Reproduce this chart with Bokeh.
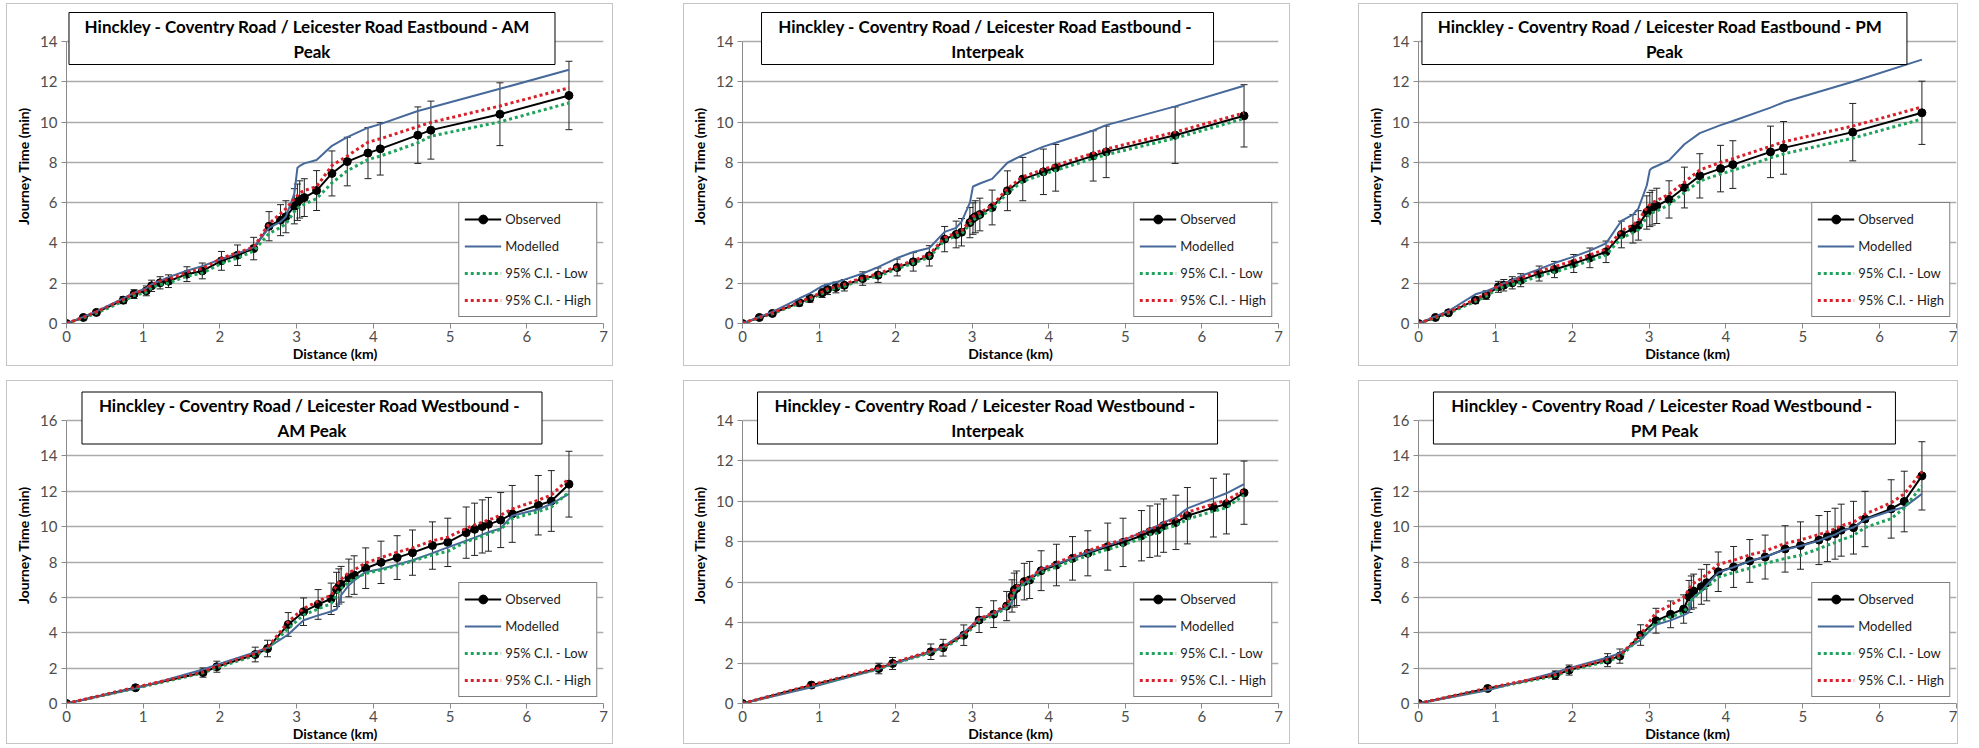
from bokeh.plotting import figure
from bokeh.models import (ColumnDataSource, Range1d, SingleIntervalTicker, FixedTicker, Legend,
                          LegendItem, Label, Whisker, TeeHead, Spacer)
from bokeh.layouts import row, column
from bokeh.embed import file_html
from bokeh.resources import INLINE

# ---------------------------------------------------------------- data
# cumulative distance along the route (km), eastbound timing points
eb_dist = [0.00, 0.22, 0.39, 0.74, 0.88, 1.04, 1.11, 1.22, 1.33, 1.57, 1.77, 2.02, 2.23, 2.44, 2.64,
           2.79, 2.86, 2.97, 3.01, 3.04, 3.10, 3.26, 3.46, 3.66, 3.93, 4.09, 4.58, 4.75, 5.65, 6.55]
# cumulative distance along the route (km), westbound timing points
wb_dist = [0.00, 0.90, 1.78, 1.96, 2.46, 2.62, 2.89, 3.09, 3.28, 3.45, 3.52, 3.55, 3.58, 3.68, 3.75,
           3.90, 4.10, 4.31, 4.51, 4.77, 4.97, 5.21, 5.32, 5.42, 5.50, 5.66, 5.81, 6.15, 6.32, 6.55]

# Eastbound AM peak (journey time, min)
eb_am_obs = [0, 0.30, 0.55, 1.16, 1.46, 1.62, 1.87, 2.02, 2.10, 2.45, 2.61, 3.11, 3.39, 3.72, 4.83,
             5.13, 5.30, 5.82, 6.02, 6.16, 6.25, 6.60, 7.45, 8.04, 8.46, 8.67, 9.35, 9.60, 10.39, 11.32]
eb_am_mod = [0, 0.33, 0.60, 1.25, 1.52, 1.75, 1.95, 2.12, 2.30, 2.62, 2.85, 3.20, 3.48, 3.78, 4.75,
             5.05, 5.30, 6.45, 7.73, 7.82, 7.95, 8.12, 8.82, 9.25, 9.72, 9.90, 10.55, 10.72, 11.65, 12.60]
eb_am_lo = [0, 0.28, 0.51, 1.10, 1.39, 1.54, 1.78, 1.93, 2.01, 2.35, 2.50, 2.98, 3.25, 3.60, 4.47,
            4.77, 4.95, 5.55, 5.71, 5.82, 5.92, 6.20, 6.98, 7.58, 8.14, 8.31, 8.97, 9.30, 10.01, 10.95]
eb_am_hi = [0, 0.32, 0.58, 1.20, 1.51, 1.68, 1.94, 2.10, 2.19, 2.55, 2.72, 3.24, 3.52, 3.79, 4.96,
            5.46, 5.70, 6.19, 6.36, 6.48, 6.60, 6.80, 7.84, 8.32, 9.00, 9.17, 9.78, 9.98, 10.80, 11.70]

# Eastbound interpeak
eb_ip_obs = [0, 0.30, 0.50, 1.03, 1.24, 1.52, 1.69, 1.79, 1.90, 2.23, 2.40, 2.78, 3.06, 3.36, 4.19,
             4.42, 4.53, 5.01, 5.21, 5.30, 5.41, 5.76, 6.59, 7.17, 7.53, 7.73, 8.32, 8.52, 9.35, 10.31]
eb_ip_mod = [0, 0.32, 0.58, 1.24, 1.50, 1.85, 1.95, 2.05, 2.18, 2.48, 2.80, 3.25, 3.55, 3.75, 4.55,
             4.75, 5.05, 6.00, 6.80, 6.85, 6.95, 7.18, 7.98, 8.36, 8.78, 8.97, 9.58, 9.85, 10.78, 11.80]
eb_ip_lo = [0, 0.29, 0.48, 1.00, 1.20, 1.48, 1.65, 1.75, 1.85, 2.18, 2.34, 2.72, 2.99, 3.29, 4.12,
            4.34, 4.45, 4.92, 5.12, 5.21, 5.32, 5.66, 6.48, 7.06, 7.41, 7.60, 8.19, 8.38, 9.20, 10.17]
eb_ip_hi = [0, 0.31, 0.52, 1.06, 1.28, 1.56, 1.73, 1.83, 1.95, 2.28, 2.46, 2.84, 3.12, 3.43, 4.26,
            4.50, 4.61, 5.10, 5.30, 5.39, 5.50, 5.86, 6.70, 7.28, 7.65, 7.86, 8.45, 8.66, 9.50, 10.45]

# Eastbound PM peak
eb_pm_obs = [0, 0.30, 0.53, 1.16, 1.41, 1.82, 1.90, 2.02, 2.15, 2.48, 2.68, 2.98, 3.26, 3.56, 4.42,
             4.70, 4.87, 5.51, 5.66, 5.75, 5.84, 6.16, 6.75, 7.33, 7.69, 7.89, 8.52, 8.72, 9.50, 10.46]
eb_pm_mod = [0, 0.35, 0.62, 1.45, 1.60, 1.85, 2.00, 2.15, 2.35, 2.70, 3.00, 3.32, 3.62, 3.98, 5.10,
             5.40, 5.70, 6.85, 7.62, 7.72, 7.82, 8.10, 8.90, 9.45, 9.85, 10.05, 10.72, 10.98, 12.00, 13.10]
eb_pm_lo = [0, 0.28, 0.50, 1.10, 1.35, 1.75, 1.82, 1.93, 2.05, 2.36, 2.55, 2.85, 3.12, 3.40, 4.25,
            4.50, 4.65, 5.28, 5.42, 5.50, 5.58, 5.90, 6.50, 7.08, 7.42, 7.60, 8.22, 8.42, 9.20, 10.15]
eb_pm_hi = [0, 0.32, 0.56, 1.20, 1.47, 1.88, 1.98, 2.10, 2.25, 2.60, 2.82, 3.12, 3.40, 3.70, 4.60,
            4.90, 5.10, 5.75, 5.90, 6.00, 6.10, 6.42, 7.02, 7.62, 8.00, 8.18, 8.80, 9.02, 9.80, 10.75]

# Westbound AM peak
wb_am_obs = [0, 0.89, 1.75, 2.08, 2.77, 3.11, 4.47, 5.19, 5.60, 5.92, 6.45, 6.62, 6.74, 7.10, 7.26,
             7.65, 7.98, 8.25, 8.53, 8.93, 9.11, 9.66, 9.85, 10.01, 10.13, 10.37, 10.72, 11.21, 11.45, 12.40]
wb_am_mod = [0, 0.85, 1.92, 2.20, 2.90, 3.15, 3.90, 4.71, 4.98, 5.20, 5.33, 5.60, 6.12, 6.69, 6.95,
             7.44, 7.60, 7.85, 8.10, 8.50, 8.83, 9.20, 9.38, 9.55, 9.68, 9.90, 10.62, 10.98, 11.28, 11.85]
wb_am_lo = [0, 0.86, 1.73, 2.02, 2.72, 3.08, 4.25, 5.00, 5.35, 5.65, 6.15, 6.35, 6.50, 6.88, 7.05,
            7.35, 7.55, 7.80, 8.05, 8.40, 8.60, 9.15, 9.30, 9.45, 9.60, 9.85, 10.45, 10.85, 11.10, 11.95]
wb_am_hi = [0, 0.92, 1.78, 2.12, 2.82, 3.16, 4.62, 5.37, 5.78, 6.12, 6.68, 6.88, 7.02, 7.40, 7.55,
            7.95, 8.25, 8.55, 8.80, 9.20, 9.40, 9.90, 10.10, 10.25, 10.36, 10.65, 11.00, 11.50, 11.78, 12.72]

# Westbound interpeak
wb_ip_obs = [0, 0.91, 1.73, 1.98, 2.56, 2.76, 3.38, 4.13, 4.42, 4.82, 5.32, 5.61, 5.70, 6.03, 6.11,
             6.57, 6.85, 7.18, 7.43, 7.76, 7.97, 8.30, 8.50, 8.58, 8.80, 8.96, 9.29, 9.69, 9.87, 10.43]
wb_ip_mod = [0, 0.80, 1.70, 1.95, 2.55, 2.80, 3.50, 4.20, 4.45, 4.75, 5.00, 5.50, 5.65, 5.95, 6.15,
             6.65, 6.90, 7.20, 7.48, 7.82, 8.08, 8.45, 8.62, 8.80, 8.95, 9.22, 9.65, 10.15, 10.40, 10.85]
wb_ip_lo = [0, 0.89, 1.70, 1.95, 2.52, 2.72, 3.33, 4.07, 4.35, 4.74, 5.24, 5.53, 5.62, 5.94, 6.02,
            6.48, 6.75, 7.07, 7.31, 7.63, 7.84, 8.16, 8.36, 8.43, 8.65, 8.80, 9.12, 9.51, 9.69, 10.31]
wb_ip_hi = [0, 0.92, 1.76, 2.01, 2.60, 2.80, 3.43, 4.19, 4.49, 4.90, 5.40, 5.69, 5.78, 6.12, 6.20,
            6.66, 6.95, 7.29, 7.55, 7.89, 8.10, 8.44, 8.64, 8.73, 8.95, 9.12, 9.46, 9.87, 10.05, 10.55]

# Westbound PM peak
wb_pm_obs = [0, 0.85, 1.60, 1.89, 2.45, 2.68, 3.87, 4.68, 5.04, 5.34, 6.05, 6.27, 6.36, 6.60, 6.83,
             7.45, 7.72, 8.06, 8.28, 8.74, 8.93, 9.24, 9.44, 9.60, 9.80, 9.94, 10.43, 11.00, 11.42, 12.87]
wb_pm_mod = [0, 0.75, 1.75, 2.00, 2.60, 2.85, 3.60, 4.45, 4.70, 5.00, 5.15, 5.80, 6.00, 6.35, 6.70,
             7.40, 7.70, 8.05, 8.30, 8.70, 8.90, 9.20, 9.40, 9.55, 9.75, 9.95, 10.40, 10.90, 11.10, 11.85]
wb_pm_lo = [0, 0.83, 1.56, 1.85, 2.40, 2.62, 3.75, 4.55, 4.90, 5.15, 5.60, 5.85, 5.98, 6.35, 6.55,
            7.15, 7.40, 7.65, 7.92, 8.20, 8.38, 8.75, 8.95, 9.10, 9.25, 9.50, 9.95, 10.45, 11.05, 12.30]
wb_pm_hi = [0, 0.87, 1.64, 1.93, 2.50, 2.72, 3.90, 5.15, 5.56, 6.00, 6.45, 6.69, 6.80, 7.07, 7.30,
            7.86, 8.10, 8.40, 8.62, 9.05, 9.25, 9.55, 9.72, 9.88, 10.05, 10.25, 10.70, 11.35, 11.85, 13.10]

title_lines = [
    ("Hinckley - Coventry Road / Leicester Road  Eastbound  - AM", "Peak"),
    ("Hinckley - Coventry Road / Leicester Road Eastbound  -", "Interpeak"),
    ("Hinckley - Coventry Road / Leicester Road  Eastbound  - PM", "Peak"),
    ("Hinckley - Coventry Road / Leicester Road  Westbound -", "AM Peak"),
    ("Hinckley - Coventry Road / Leicester Road  Westbound -", "Interpeak"),
    ("Hinckley - Coventry Road / Leicester Road  Westbound -", "PM Peak"),
]
legend_labels = ["Observed", "Modelled", "95% C.I. - Low", "95% C.I. - High"]
x_label = "Distance (km)"
y_label = "Journey Time (min)"

# percentage error bars on the observed series
ERR_PCT = 0.15

# ---------------------------------------------------------------- style
FONT = "Lato"
C_OBS = "#000000"
C_MOD = "#46699a"
C_LO = "#1fa35c"
C_HI = "#d8202b"
C_GRID = "#ababab"
C_AXIS = "#8a8a8a"
C_TICK = "#4d4d4d"


def make_panel(lines, dist, obs, mod, lo, hi, ymax, w, h, left, right, top_axis, bottom,
               top_frame, box_w, box_cy):
    # the frame reaches above the axis maximum so the title box can sit inside it
    axis_h = h - bottom - top_axis
    frame_h = h - bottom - top_frame
    y_view = ymax * frame_h / axis_h
    ppu = axis_h / ymax

    def y_at(canvas_y):
        return (h - bottom - canvas_y) / ppu

    p = figure(width=w, height=h, x_range=Range1d(0, 7), y_range=Range1d(0, y_view),
               output_backend="svg", toolbar_location=None,
               min_border_left=left, min_border_right=right,
               min_border_top=top_frame, min_border_bottom=bottom,
               background_fill_color="white", border_fill_color="white",
               outline_line_color=None,
               styles={"border": "1px solid #c4c4c4"})

    yt = FixedTicker(ticks=list(range(0, ymax + 1, 2)))
    p.xaxis.ticker = SingleIntervalTicker(interval=1)
    p.yaxis.ticker = yt
    p.ygrid.ticker = yt
    p.yaxis.bounds = (0, ymax)
    p.xgrid.grid_line_color = None
    p.ygrid.grid_line_color = C_GRID
    p.ygrid.grid_line_width = 1.5
    for ax in (p.xaxis, p.yaxis):
        ax.axis_line_color = C_AXIS
        ax.axis_line_width = 1
        ax.major_tick_line_color = C_AXIS
        ax.major_tick_in = 0
        ax.major_tick_out = 5
        ax.minor_tick_line_color = None
        ax.major_label_text_font = FONT
        ax.major_label_text_font_size = "15px"
        ax.major_label_text_color = C_TICK
        ax.axis_label_text_font = FONT
        ax.axis_label_text_font_size = "14px"
        ax.axis_label_text_font_style = "bold"
        ax.axis_label_text_color = "#000000"
    p.xaxis.major_label_standoff = 2
    p.xaxis.axis_label_standoff = 0
    p.yaxis.major_label_standoff = 4
    p.yaxis.axis_label_standoff = 5
    p.xaxis.axis_label = x_label
    p.yaxis.axis_label = y_label

    src = ColumnDataSource(dict(
        x=dist, obs=obs, mod=mod, lo=lo, hi=hi,
        eu=[v * (1 + ERR_PCT) for v in obs],
        el=[v * (1 - ERR_PCT) for v in obs],
    ))

    r_obs_line = p.line("x", "obs", source=src, line_color=C_OBS, line_width=2)
    r_obs_pts = p.scatter("x", "obs", source=src, marker="circle", size=8,
                          fill_color=C_OBS, line_color=C_OBS)
    r_mod = p.line("x", "mod", source=src, line_color=C_MOD, line_width=2)
    r_lo = p.line("x", "lo", source=src, line_color=C_LO, line_width=3, line_dash="3 3")
    r_hi = p.line("x", "hi", source=src, line_color=C_HI, line_width=3, line_dash="3 3")

    err = Whisker(source=src, base="x", upper="eu", lower="el", dimension="height",
                  line_color="#222222", line_width=1,
                  upper_head=TeeHead(size=7, line_color="#222222", line_width=1),
                  lower_head=TeeHead(size=7, line_color="#222222", line_width=1))
    p.add_layout(err)

    legend = Legend(items=[
        LegendItem(label=legend_labels[0], renderers=[r_obs_line, r_obs_pts]),
        LegendItem(label=legend_labels[1], renderers=[r_mod]),
        LegendItem(label=legend_labels[2], renderers=[r_lo]),
        LegendItem(label=legend_labels[3], renderers=[r_hi]),
    ], location="bottom_right")
    legend.margin = 6
    legend.padding = 5
    legend.spacing = 5
    legend.label_height = 22
    legend.glyph_height = 22
    legend.glyph_width = 37
    legend.label_standoff = 4
    legend.label_text_font = FONT
    legend.label_text_font_size = "13px"
    legend.label_text_color = "#222222"
    legend.border_line_color = "#000000"
    legend.border_line_width = 1
    legend.background_fill_color = "white"
    legend.background_fill_alpha = 1
    p.add_layout(legend)

    # chart title in a framed white box overlapping the top of the plot
    p.rect(x=[3.2], y=[y_at(box_cy)], width=box_w, height=52,
           width_units="screen", height_units="screen",
           fill_color="white", line_color="#000000", line_width=1)
    for i, txt in enumerate(lines):
        p.add_layout(Label(x=3.2, y=y_at(box_cy - 12.5 + 25 * i), text=txt,
                           text_align="center", text_baseline="middle",
                           text_font=FONT, text_font_style="bold",
                           text_font_size="17px", text_color="#000000"))
    return p


# canvas geometry: width, height, left, right, axis-top, bottom, frame-top, title box
p1 = make_panel(title_lines[0], eb_dist, eb_am_obs, eb_am_mod, eb_am_lo, eb_am_hi, 14,
                607, 363, 59, 11, 37, 44, 4, 486, 34)
p2 = make_panel(title_lines[1], eb_dist, eb_ip_obs, eb_ip_mod, eb_ip_lo, eb_ip_hi, 14,
                607, 363, 58, 13, 37, 44, 4, 452, 34)
p3 = make_panel(title_lines[2], eb_dist, eb_pm_obs, eb_pm_mod, eb_pm_lo, eb_pm_hi, 14,
                600, 363, 59, 3, 37, 44, 4, 485, 34)
p4 = make_panel(title_lines[3], wb_dist, wb_am_obs, wb_am_mod, wb_am_lo, wb_am_hi, 16,
                607, 364, 59, 11, 39, 42, 5, 460, 36.5)
p5 = make_panel(title_lines[4], wb_dist, wb_ip_obs, wb_ip_mod, wb_ip_lo, wb_ip_hi, 14,
                607, 364, 58, 13, 39, 42, 5, 460, 36.5)
p6 = make_panel(title_lines[5], wb_dist, wb_pm_obs, wb_pm_mod, wb_pm_lo, wb_pm_hi, 16,
                600, 364, 59, 3, 39, 42, 5, 462, 36.5)

page = column(
    Spacer(height=3),
    row(Spacer(width=6), p1, Spacer(width=70), p2, Spacer(width=68), p3),
    Spacer(height=14),
    row(Spacer(width=6), p4, Spacer(width=70), p5, Spacer(width=68), p6),
)

open("out.html", "w").write(file_html(page, INLINE))
